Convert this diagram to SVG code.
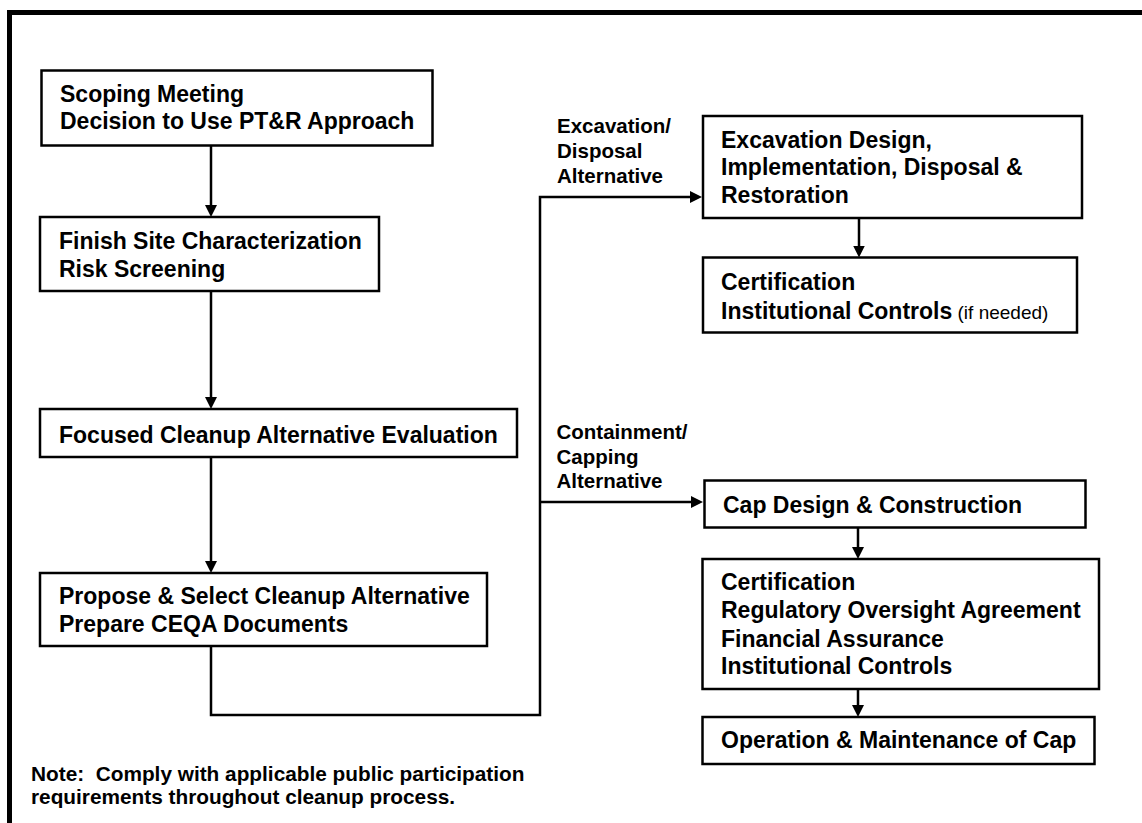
<svg xmlns="http://www.w3.org/2000/svg" width="1142" height="823" viewBox="0 0 1142 823">
<style>
.box{fill:#fff;stroke:#000;stroke-width:2.5}
.t{font-family:"Liberation Sans",Arial,sans-serif;font-weight:bold;font-size:23px;fill:#000}
.lbl{font-size:20.5px}
.note{font-size:20.8px}
.reg{font-weight:normal;font-size:19px}
.conn{fill:none;stroke:#000;stroke-width:2.5}
</style>
<defs>
<marker id="ah" markerWidth="12" markerHeight="12" refX="6" refY="6" orient="auto" markerUnits="userSpaceOnUse">
<path d="M0,0 L12,6 L0,12 z" fill="#000"/>
</marker>
</defs>
<rect x="9.5" y="12.5" width="1300" height="1000" fill="#fff" stroke="#000" stroke-width="5"/>
<g id="connectors">
<line class="conn" x1="211" y1="145.5" x2="211" y2="211" marker-end="url(#ah)"/>
<line class="conn" x1="211" y1="291" x2="211" y2="403" marker-end="url(#ah)"/>
<line class="conn" x1="211" y1="457" x2="211" y2="567" marker-end="url(#ah)"/>
<polyline class="conn" points="211,646 211,715 540,715 540,197 696,197" marker-end="url(#ah)"/>
<line class="conn" x1="540" y1="502" x2="697" y2="502" marker-end="url(#ah)"/>
<line class="conn" x1="859" y1="218" x2="859" y2="251.5" marker-end="url(#ah)"/>
<line class="conn" x1="858" y1="527.5" x2="858" y2="553" marker-end="url(#ah)"/>
<line class="conn" x1="858" y1="689" x2="858" y2="711" marker-end="url(#ah)"/>
</g>
<g id="n1">
<rect class="box" x="41.5" y="70.5" width="391" height="75"/>
<text class="t" x="60" y="101.5">Scoping Meeting</text>
<text class="t" x="60" y="129">Decision to Use PT&amp;R Approach</text>
</g>
<g id="n2">
<rect class="box" x="40" y="217" width="339" height="74"/>
<text class="t" x="59" y="249.3">Finish Site Characterization</text>
<text class="t" x="59" y="277.3">Risk Screening</text>
</g>
<g id="n3">
<rect class="box" x="40" y="409" width="477" height="48"/>
<text class="t" x="59" y="442.5">Focused Cleanup Alternative Evaluation</text>
</g>
<g id="n4">
<rect class="box" x="40" y="573" width="447" height="73"/>
<text class="t" x="59" y="604.3">Propose &amp; Select Cleanup Alternative</text>
<text class="t" x="59" y="631.7">Prepare CEQA Documents</text>
</g>
<g id="lbl-excavation">
<text class="t lbl" x="557" y="133.3">Excavation/</text>
<text class="t lbl" x="557" y="158">Disposal</text>
<text class="t lbl" x="557" y="182.5">Alternative</text>
</g>
<g id="lbl-containment">
<text class="t lbl" x="556.5" y="439.3">Containment/</text>
<text class="t lbl" x="556.5" y="464">Capping</text>
<text class="t lbl" x="556.5" y="487.7">Alternative</text>
</g>
<g id="n5">
<rect class="box" x="703" y="116" width="379" height="102"/>
<text class="t" x="721" y="148">Excavation Design,</text>
<text class="t" x="721" y="175">Implementation, Disposal &amp;</text>
<text class="t" x="721" y="203">Restoration</text>
</g>
<g id="n6">
<rect class="box" x="703" y="257.5" width="374" height="75"/>
<text class="t" x="721" y="290">Certification</text>
<text class="t" x="721" y="319.3">Institutional Controls<tspan class="reg"> (if needed)</tspan></text>
</g>
<g id="n7">
<rect class="box" x="704.5" y="480.5" width="381" height="47"/>
<text class="t" x="723" y="512.7">Cap Design &amp; Construction</text>
</g>
<g id="n8">
<rect class="box" x="702.5" y="559" width="396.5" height="130"/>
<text class="t" x="721" y="590">Certification</text>
<text class="t" x="721" y="618.3">Regulatory Oversight Agreement</text>
<text class="t" x="721" y="646.5">Financial Assurance</text>
<text class="t" x="721" y="673.5">Institutional Controls</text>
</g>
<g id="n9">
<rect class="box" x="702.5" y="717" width="392" height="47"/>
<text class="t" x="721" y="748.3">Operation &amp; Maintenance of Cap</text>
</g>
<g id="note">
<text class="t note" x="31" y="781" xml:space="preserve">Note:  Comply with applicable public participation</text>
<text class="t note" x="31" y="804">requirements throughout cleanup process.</text>
</g>
</svg>
